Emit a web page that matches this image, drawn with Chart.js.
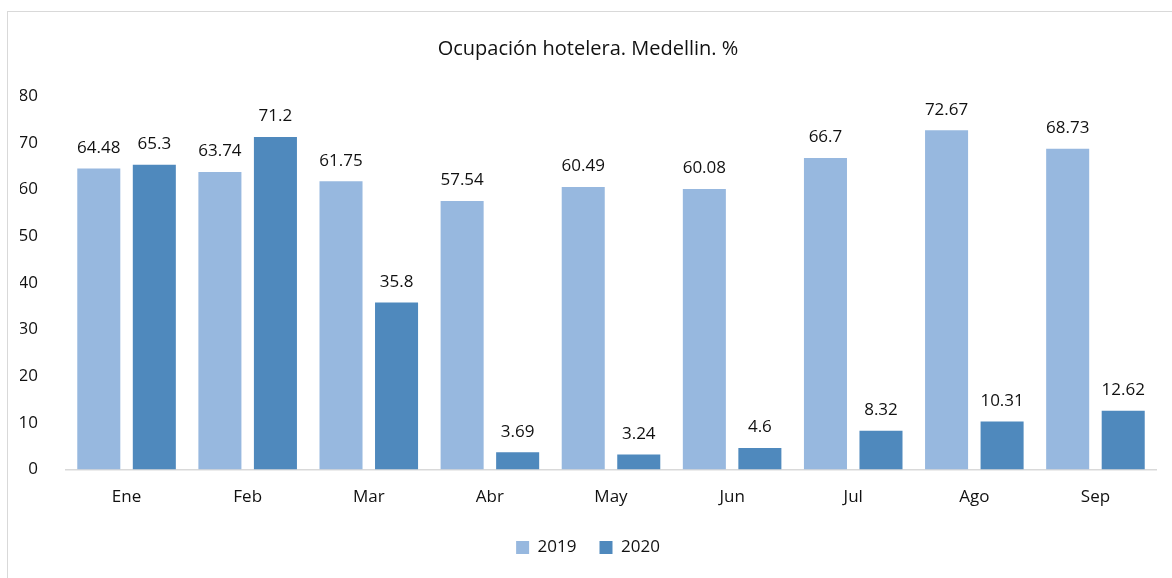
<!DOCTYPE html>
<html>
<head>
<meta charset="utf-8">
<script src="https://cdn.jsdelivr.net/npm/chart.js@4.4.1/dist/chart.umd.min.js"></script>
<style>
    html, body { margin: 0; padding: 0; background: #fff; overflow: hidden; }
    #frame { position: absolute; left: 7px; top: 11px; width: 1300px; height: 700px; border: 1px solid #d9d9d9; }
    #wrap { position: absolute; left: 0; top: 0; width: 1172px; height: 578px; }
</style>
</head>
<body>
<div id="frame"></div>
<div id="wrap"><canvas id="c" width="1172" height="578"></canvas></div>
<script>
const months = ['Ene', 'Feb', 'Mar', 'Abr', 'May', 'Jun', 'Jul', 'Ago', 'Sep'];
const values2019 = [64.48, 63.74, 61.75, 57.54, 60.49, 60.08, 66.7, 72.67, 68.73];
const values2020 = [65.3, 71.2, 35.8, 3.69, 3.24, 4.6, 8.32, 10.31, 12.62];
const yTicks = [0, 10, 20, 30, 40, 50, 60, 70, 80];

const FONT = "'Open Sans', 'Noto Sans', sans-serif";

// Draw the value above each bar
const barLabels = {
    id: 'barLabels',
    afterDatasetsDraw(chart) {
        const ctx = chart.ctx;
        ctx.save();
        ctx.font = '17px ' + FONT;
        ctx.fillStyle = '#111';
        ctx.textAlign = 'center';
        ctx.textBaseline = 'bottom';
        chart.data.datasets.forEach((ds, i) => {
            chart.getDatasetMeta(i).data.forEach((bar, j) => {
                ctx.fillText(String(ds.data[j]), bar.x, bar.y - 12);
            });
        });
        ctx.restore();
    }
};

new Chart(document.getElementById('c'), {
    type: 'bar',
    data: {
        labels: months,
        datasets: [
            { label: '2019', data: values2019, backgroundColor: '#97b8df' },
            { label: '2020', data: values2020, backgroundColor: '#4f89bd' }
        ]
    },
    options: {
        responsive: false,
        animation: false,
        categoryPercentage: 0.917,
        barPercentage: 0.775,
        layout: { padding: { left: 20, right: 16, top: 18, bottom: 12 } },
        plugins: {
            title: {
                display: true,
                text: 'Ocupación hotelera. Medellin. %',
                color: '#111',
                font: { family: FONT, size: 20, weight: 'normal' },
                padding: { top: 19, bottom: 35 }
            },
            legend: {
                position: 'bottom',
                labels: {
                    color: '#111',
                    boxWidth: 13,
                    boxHeight: 13,
                    padding: 23,
                    font: { family: FONT, size: 17 }
                }
            },
            tooltip: { enabled: false }
        },
        scales: {
            x: {
                grid: { display: false },
                border: { display: true, color: '#d9d9d9', width: 1.5 },
                ticks: { color: '#111', padding: 9, font: { family: FONT, size: 17 } }
            },
            y: {
                min: 0,
                max: 80,
                afterFit(scale) { scale.width = 46; },
                afterBuildTicks(scale) { scale.ticks = yTicks.map(v => ({ value: v })); },
                grid: { display: false },
                border: { display: false },
                ticks: { color: '#111', padding: 20, font: { family: FONT, size: 17 } }
            }
        }
    },
    plugins: [barLabels]
});
</script>
</body>
</html>
